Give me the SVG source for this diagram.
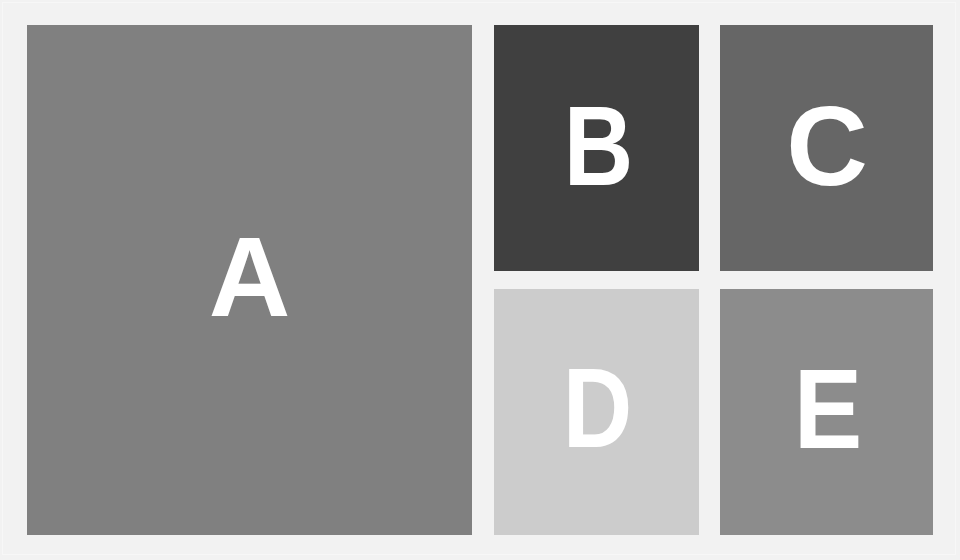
<svg xmlns="http://www.w3.org/2000/svg" width="960" height="560" viewBox="0 0 960 560">
<style>
.lbl{font-family:"Liberation Sans",Arial,sans-serif;font-weight:bold;font-size:113px;fill:#ffffff;text-anchor:middle}
</style>
<rect x="0" y="0" width="960" height="560" fill="#f2f2f2"/>
<rect x="2.5" y="2.5" width="953" height="552" fill="none" stroke="#f7f7f7" stroke-width="1"/>
<g id="node-A"><rect x="27" y="25" width="445" height="510" fill="#808080"/><text class="lbl" x="249.5" y="316">A</text></g>
<g id="node-B"><rect x="494" y="25" width="205" height="246" fill="#404040"/><text class="lbl" x="598.5" y="185" textLength="69.5" lengthAdjust="spacingAndGlyphs">B</text></g>
<g id="node-C"><rect x="720" y="25" width="213" height="246" fill="#666666"/><text class="lbl" x="827" y="185">C</text></g>
<g id="node-D"><rect x="494" y="289" width="205" height="246" fill="#cccccc"/><text class="lbl" x="597.5" y="447" textLength="69.5" lengthAdjust="spacingAndGlyphs">D</text></g>
<g id="node-E"><rect x="720" y="289" width="213" height="246" fill="#8c8c8c"/><text class="lbl" x="828" y="448" textLength="68.5" lengthAdjust="spacingAndGlyphs">E</text></g>
<g id="connectors"/>
</svg>
